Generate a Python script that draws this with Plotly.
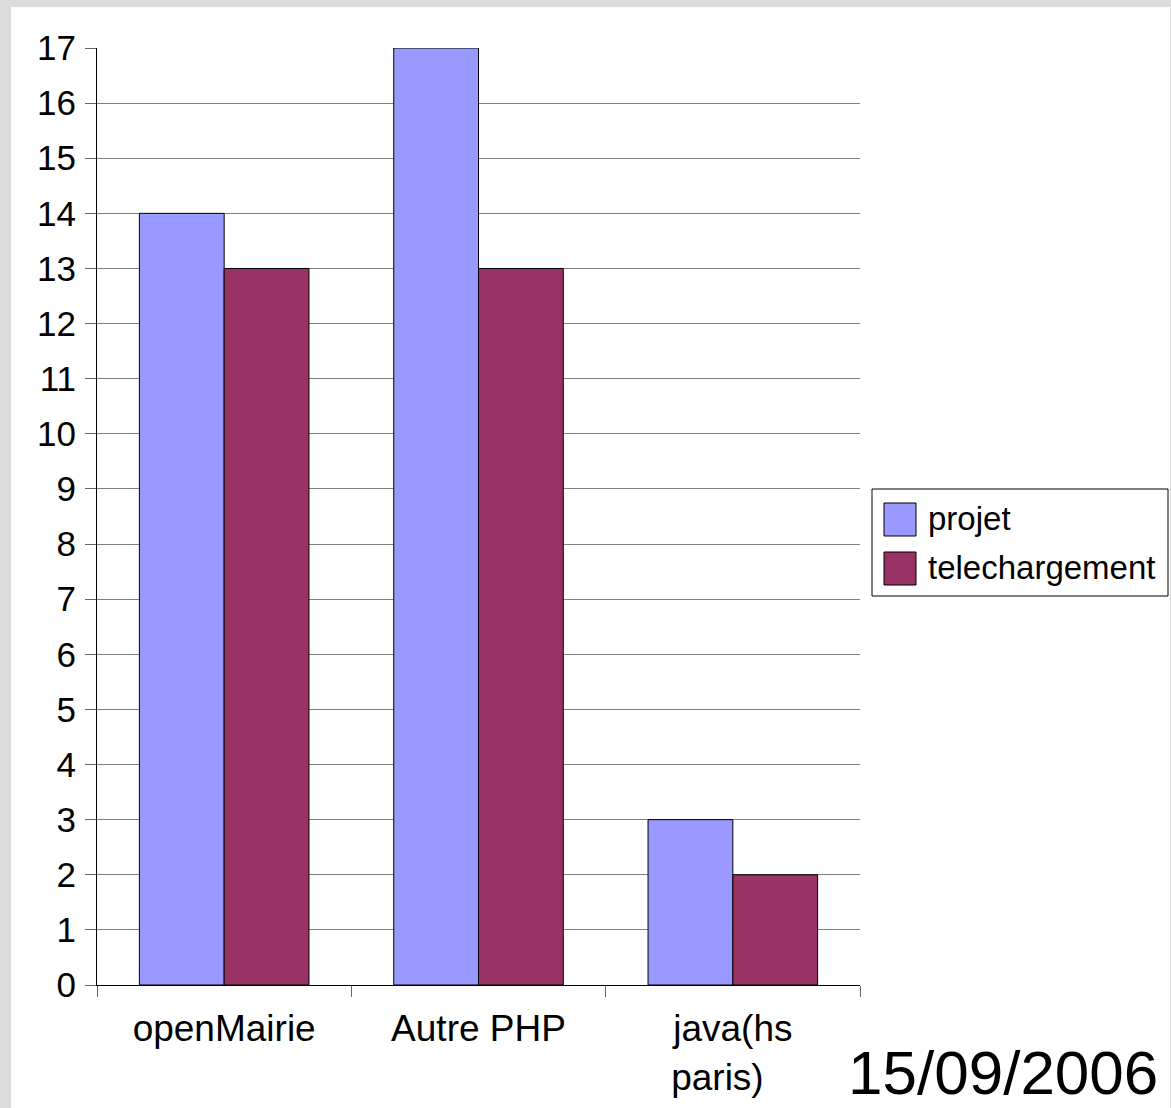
import plotly.graph_objects as go

categories = ["openMairie", "Autre PHP", "java(hs<br>paris)\u00a0\u00a0\u00a0"]
projet = [14, 17, 3]
telechargement = [13, 13, 2]
series_names = ["projet", "telechargement"]
series_colors = ["#9999ff", "#993366"]
y_ticks = list(range(0, 18))
date_label = "15/09/2006"

W, H = 1171, 1108
L, R, T, B = 97, 860, 48, 985
FONT = "Liberation Sans, Arial, sans-serif"


def px2x(px):
    return (px - L) / (R - L)


def py2y(py):
    return (B - py) / (B - T)


fig = go.Figure()
for name, vals, col in zip(series_names, [projet, telechargement], series_colors):
    fig.add_trace(go.Bar(
        x=categories, y=vals, name=name,
        marker=dict(color=col, line=dict(color="#000000", width=1)),
        showlegend=False,
    ))

shapes = [
    dict(type="rect", xref="paper", yref="paper", layer="below",
         x0=px2x(11), x1=px2x(1170), y0=py2y(1110), y1=py2y(7),
         fillcolor="white", line=dict(width=0)),
    # legend box
    dict(type="rect", xref="paper", yref="paper",
         x0=px2x(872), x1=px2x(1168), y0=py2y(596), y1=py2y(489),
         fillcolor="white", line=dict(color="black", width=1)),
]
annotations = []
leg_rows = [(503, 536), (552, 585)]
for (y0, y1), name, col in zip(leg_rows, series_names, series_colors):
    shapes.append(dict(type="rect", xref="paper", yref="paper",
                       x0=px2x(884), x1=px2x(916), y0=py2y(y1), y1=py2y(y0),
                       fillcolor=col, line=dict(color="black", width=1)))
    annotations.append(dict(xref="paper", yref="paper", x=px2x(926), y=py2y((y0 + y1) / 2 - 1),
                            xanchor="left", yanchor="middle", showarrow=False,
                            text=name, font=dict(family=FONT, size=33, color="black")))

annotations.append(dict(xref="paper", yref="paper", x=px2x(1160), y=py2y(1072),
                        xanchor="right", yanchor="middle", showarrow=False,
                        text=date_label, font=dict(family=FONT, size=62, color="black")))

fig.update_layout(
    width=W, height=H,
    margin=dict(l=L, r=W - R, t=T, b=H - B, pad=0, autoexpand=False),
    paper_bgcolor="#dcdcdc",
    plot_bgcolor="white",
    barmode="group",
    bargap=1 / 3,
    bargroupgap=0,
    font=dict(family=FONT, color="black"),
    shapes=shapes,
    annotations=annotations,
    xaxis=dict(
        type="category",
        automargin=False,
        tickson="boundaries",
        ticks="outside", ticklen=11, tickcolor="#666666", tickwidth=1,
        showgrid=False,
        showline=True, linecolor="black", linewidth=1,
        tickfont=dict(family=FONT, size=37, color="black"),
        ticklabelstandoff=11,
        range=[-0.5, 2.5],
    ),
    yaxis=dict(
        range=[0, 17],
        automargin=False,
        tickvals=y_ticks,
        ticks="outside", ticklen=11, tickcolor="#666666", tickwidth=1,
        showgrid=True, gridcolor="#808080", gridwidth=1,
        showline=True, linecolor="black", linewidth=1,
        zeroline=False,
        tickfont=dict(family=FONT, size=35, color="black"),
        ticklabelstandoff=2,
    ),
)

fig.write_html("out.html", config={"displayModeBar": False},
               post_script="document.body.style.margin='0';document.body.style.overflow='hidden';")
